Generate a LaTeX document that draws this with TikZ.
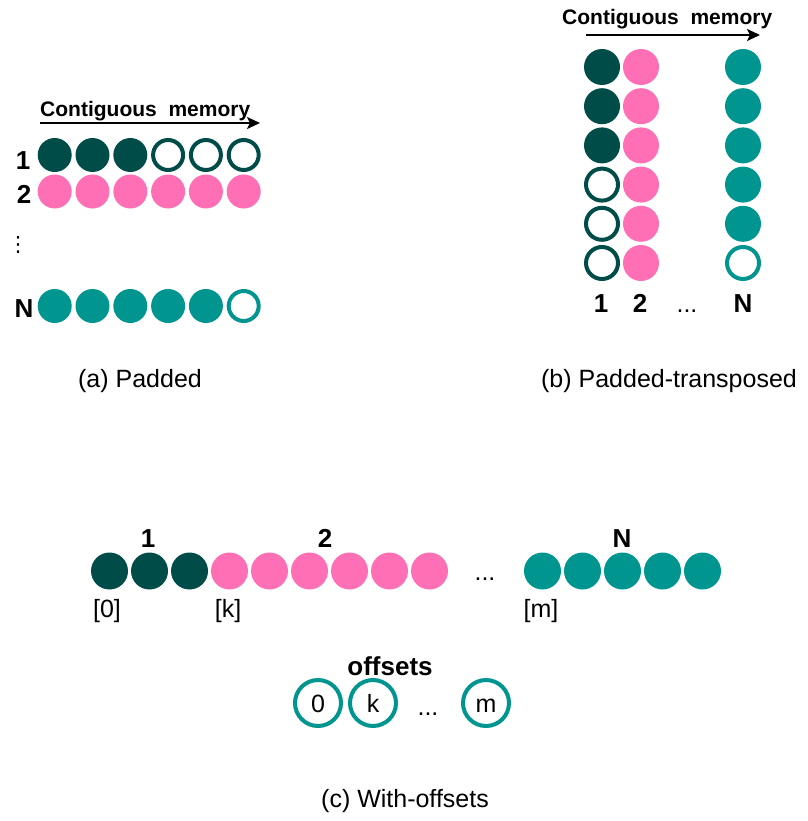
\documentclass[tikz,border=0pt]{standalone}
\usepackage{fontspec}
\setmainfont{Liberation Sans}
\newfontfamily\symfont{DejaVu Sans}
\usetikzlibrary{arrows.meta}

\definecolor{darkteal}{HTML}{004C49}
\definecolor{hotpink}{HTML}{FF6FB5}
\definecolor{teal}{HTML}{00958F}

\tikzset{
  full/.style={circle, inner sep=0pt, fill=#1},
  hollow/.style={circle, inner sep=0pt, draw=#1, line width=4pt, fill=white},
  offcell/.style={hollow=teal, minimum size=46pt, font=\fontsize{25}{30}\selectfont,
                  text height=18pt, text depth=0pt},
  lbl/.style={font=\bfseries\fontsize{26}{30}\selectfont, inner sep=0pt, anchor=base},
  txt/.style={font=\fontsize{25}{30}\selectfont, inner sep=0pt, anchor=base},
  captxt/.style={font=\fontsize{25}{30}\selectfont, inner sep=0pt, anchor=base},
  memtxt/.style={font=\bfseries\fontsize{21}{24}\selectfont, inner sep=0pt, anchor=base west},
  memarrow/.style={-{Stealth[length=13pt,width=12pt,inset=3pt]}, line width=2pt},
}

\begin{document}
\begin{tikzpicture}[x=1pt, y=-1pt]
\useasboundingbox (0,0) rectangle (807,821);

% ---------------- (a) Padded ----------------
\begin{scope}[full/.append style={minimum size=34pt},
              hollow/.append style={minimum size=30pt}]
  \node[memtxt] (amem) at (40,117) {Contiguous\ \ memory};
  \coordinate (aarrS) at (40,123);
  \coordinate (aarrE) at (260,123);
  \draw[memarrow] (aarrS) -- (aarrE);

  \foreach \i in {0,1,2}
    \node[full=darkteal] (a1-\i) at (54.7+37.8*\i,155) {};
  \foreach \i in {3,4,5}
    \node[hollow=darkteal] (a1-\i) at (54.7+37.8*\i,155) {};
  \foreach \i in {0,...,5}
    \node[full=hotpink] (a2-\i) at (54.7+37.8*\i,191.5) {};
  \foreach \i in {0,...,4}
    \node[full=teal] (aN-\i) at (54.7+37.8*\i,306) {};
  \node[hollow=teal] (aN-5) at (54.7+37.8*5,306) {};

  \node[lbl] (alab1) at (23,170) {1};
  \node[lbl] (alab2) at (24,203) {2};
  \node[inner sep=0pt, font=\symfont\fontsize{21}{24}\selectfont] (avdots) at (18,245) {⋮};
  \node[lbl] (alabN) at (24,317) {N};

  \node[captxt] (capa) at (140,387) {(a) Padded};
\end{scope}

% ---------------- (b) Padded-transposed ----------------
\begin{scope}[full/.append style={minimum size=36pt},
              hollow/.append style={minimum size=32pt}]
  \node[memtxt] (bmem) at (562,25) {Contiguous\ \ memory};
  \coordinate (barrS) at (586,35);
  \coordinate (barrE) at (760,35);
  \draw[memarrow] (barrS) -- (barrE);

  \foreach \j in {0,1,2}
    \node[full=darkteal] (b1-\j) at (602,67+39.2*\j) {};
  \foreach \j in {3,4,5}
    \node[hollow=darkteal] (b1-\j) at (602,67+39.2*\j) {};
  \foreach \j in {0,...,5}
    \node[full=hotpink] (b2-\j) at (641,67+39.2*\j) {};
  \foreach \j in {0,...,4}
    \node[full=teal] (bN-\j) at (743,67+39.2*\j) {};
  \node[hollow=teal] (bN-5) at (743,67+39.2*5) {};

  \node[lbl] (blab1) at (601,312) {1};
  \node[lbl] (blab2) at (640,312) {2};
  \node[txt] (bdots) at (687,312) {...};
  \node[lbl] (blabN) at (743,312) {N};

  \node[captxt] (capb) at (669,387) {(b) Padded-transposed};
\end{scope}

% ---------------- (c) With-offsets ----------------
\begin{scope}[full/.append style={minimum size=37pt}]
  \foreach \i in {0,1,2}
    \node[full=darkteal] (c1-\i) at (109.5+40*\i,571) {};
  \foreach \i in {0,...,5}
    \node[full=hotpink] (c2-\i) at (229.5+40*\i,571) {};
  \node[txt] (cdots) at (485,580) {...};
  \foreach \i in {0,...,4}
    \node[full=teal] (cN-\i) at (542.5+40*\i,571) {};

  \node[lbl] (clab1) at (148,547) {1};
  \node[lbl] (clab2) at (325,547) {2};
  \node[lbl] (clabN) at (622,547) {N};

  \node[txt] (cidx0) at (107,617) {[0]};
  \node[txt] (cidxk) at (228,617) {[k]};
  \node[txt] (cidxm) at (541,617) {[m]};

  \node[lbl] (offlab) at (390,675) {offsets};
  \node[offcell] (off0) at (318,703) {0};
  \node[offcell] (offk) at (373,703) {k};
  \node[txt] (offdots) at (428,715) {...};
  \node[offcell] (offm) at (486,703) {m};

  \node[captxt] (capc) at (405,807) {(c) With-offsets};
\end{scope}
\end{tikzpicture}
\end{document}
